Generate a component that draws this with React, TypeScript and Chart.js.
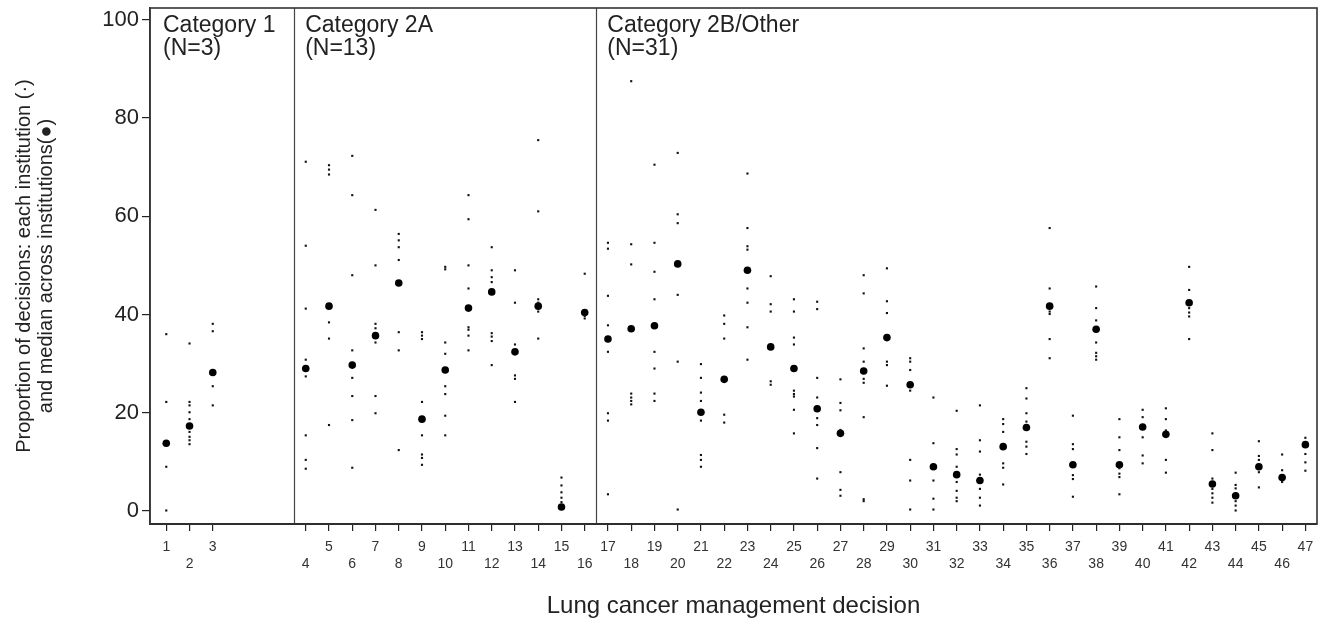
import React, { useEffect, useRef } from 'react';
import { Chart, registerables } from 'chart.js';

Chart.register(...registerables);

// ---------- data ----------
const decisionLabels: string[] = Array.from({ length: 47 }, (_, i) => String(i + 1));

const categoryNames: string[] = ['Category 1', 'Category 2A', 'Category 2B/Other'];
const categoryCounts: string[] = ['(N=3)', '(N=13)', '(N=31)'];
const categoryFirstDecision: number[] = [1, 4, 17];

const yTickValues: number[] = [0, 20, 40, 60, 80, 100];

const medians: number[] = [
  13.8, 17.3, 28.2, 29.0, 41.7, 29.7, 35.7, 46.4, 18.7, 28.7,
  41.3, 44.6, 32.4, 41.7, 0.8, 40.4, 35.0, 37.1, 37.7, 50.3,
  20.1, 26.8, 49.0, 33.4, 29.0, 20.8, 15.8, 28.5, 35.3, 25.7,
  9.0, 7.4, 6.2, 13.1, 17.0, 41.7, 9.4, 37.0, 9.4, 17.1,
  15.6, 42.4, 5.5, 3.1, 9.0, 6.8, 13.5,
];

const institutionValues: number[][] = [
  [36.0, 22.2, 9.0, 0.1],
  [34.1, 22.2, 21.5, 20.1, 18.7, 16.1, 15.1, 14.4, 13.6],
  [38.1, 36.6, 25.4, 21.5],
  [71.1, 54.0, 41.2, 30.8, 27.4, 15.4, 10.4, 8.6],
  [70.4, 69.5, 68.5, 38.4, 35.1, 17.5],
  [72.3, 64.3, 48.0, 32.7, 27.1, 23.4, 18.5, 8.8],
  [61.3, 50.0, 38.1, 37.2, 34.3, 23.4, 19.9],
  [56.4, 55.1, 53.7, 51.1, 36.4, 32.7, 12.4],
  [36.4, 35.7, 35.0, 22.2, 15.4, 11.5, 10.8, 9.4],
  [49.7, 49.2, 34.3, 32.0, 25.4, 23.8, 19.4, 15.4],
  [64.3, 59.4, 50.0, 45.3, 37.4, 36.9, 35.7, 32.7],
  [53.7, 49.0, 47.6, 46.6, 36.2, 35.5, 34.6, 29.7],
  [49.0, 42.4, 33.9, 27.6, 26.9, 22.2],
  [75.5, 61.0, 43.1, 42.4, 40.6, 35.1],
  [6.8, 5.2, 3.8, 2.7, 1.8],
  [48.3, 39.7, 39.2],
  [54.6, 53.4, 43.8, 37.8, 32.4, 19.9, 18.4, 3.4],
  [87.5, 54.3, 50.2, 23.9, 23.1, 22.4, 21.7],
  [70.5, 54.6, 48.7, 43.1, 32.4, 29.0, 23.9, 22.4],
  [72.9, 60.4, 58.6, 44.0, 30.4, 0.3],
  [29.9, 27.1, 24.1, 22.4, 18.4, 11.4, 10.4, 9.0],
  [39.8, 38.1, 35.1, 19.6, 18.0],
  [68.7, 57.6, 53.9, 53.2, 45.3, 42.4, 37.4, 30.8],
  [47.8, 42.1, 40.6, 26.4, 25.7],
  [43.1, 40.6, 35.3, 33.9, 24.5, 23.8, 23.3, 20.6, 15.8],
  [42.6, 41.1, 27.1, 23.1, 18.9, 17.5, 12.8, 6.6],
  [26.8, 22.0, 20.5, 16.5, 7.9, 4.3, 3.1],
  [48.0, 44.3, 33.1, 30.4, 26.9, 26.1, 19.1, 2.4, 2.0],
  [49.4, 42.7, 40.3, 30.4, 29.7, 25.5],
  [31.1, 30.4, 28.7, 24.5, 10.4, 6.2, 0.3],
  [23.1, 13.8, 6.2, 2.5, 0.3],
  [20.4, 12.6, 11.5, 9.0, 5.9, 4.1, 2.7, 2.0],
  [21.5, 14.4, 12.1, 7.4, 4.5, 2.7, 1.1],
  [18.7, 17.7, 16.1, 9.7, 8.8, 5.4],
  [25.0, 22.9, 19.9, 18.2, 14.1, 13.1, 11.6],
  [57.6, 45.3, 40.6, 40.1, 35.0, 31.1],
  [19.4, 13.6, 12.6, 7.3, 6.5, 2.9],
  [45.7, 41.3, 38.8, 34.3, 32.2, 31.5, 30.8],
  [18.7, 15.0, 12.4, 8.7, 7.6, 6.9, 3.4],
  [20.6, 19.1, 15.0, 11.3, 9.7],
  [20.9, 18.7, 16.4, 10.4, 7.8],
  [49.7, 45.0, 41.3, 40.4, 39.6, 35.0],
  [15.8, 12.4, 6.6, 4.5, 3.6, 2.7, 1.7],
  [7.8, 5.3, 4.6, 2.0, 1.1, 0.1],
  [14.2, 11.2, 10.4, 7.9, 4.8],
  [11.5, 8.3, 5.9],
  [14.9, 11.6, 9.9, 8.2],
];

// ---------- layout helpers ----------
// decisions 1-3 sit in slots 0-2, three empty slots, then decision 4 onward
const slotOf = (d: number): number => (d <= 3 ? d - 1 : d + 2);
const FONT = "'Liberation Sans', Arial, sans-serif";
const INK = '#222';

export default function App() {
  const ref = useRef<HTMLCanvasElement | null>(null);

  useEffect(() => {
    if (!ref.current) return;

    const instPoints: { x: number; y: number }[] = [];
    institutionValues.forEach((vals, i) => {
      vals.forEach((v) => instPoints.push({ x: slotOf(i + 1), y: v }));
    });
    const medianPoints = medians.map((m, i) => ({ x: slotOf(i + 1), y: m }));
    const tickSlots = decisionLabels.map((_, i) => slotOf(i + 1));

    const overlay = {
      id: 'overlay',
      beforeDatasetsDraw(chart: any) {
        const { ctx, chartArea } = chart;
        const xs = chart.scales.x;
        ctx.save();
        ctx.strokeStyle = '#444';
        ctx.lineWidth = 1.2;
        categoryFirstDecision.slice(1).forEach((d) => {
          const px = Math.round(xs.getPixelForValue(slotOf(d) - 0.5)) + 0.5;
          ctx.beginPath();
          ctx.moveTo(px, chartArea.top);
          ctx.lineTo(px, chartArea.bottom);
          ctx.stroke();
        });
        ctx.fillStyle = INK;
        ctx.font = `23px ${FONT}`;
        ctx.textBaseline = 'middle';
        ctx.textAlign = 'left';
        categoryFirstDecision.forEach((d, i) => {
          const left = i === 0 ? chartArea.left : xs.getPixelForValue(slotOf(d) - 0.5);
          const tx = left + (i === 0 ? 13 : 11);
          ctx.fillText(categoryNames[i], tx, chartArea.top + 18);
          ctx.fillText(categoryCounts[i], tx, chartArea.top + 41);
        });
        ctx.restore();
      },
      afterDraw(chart: any) {
        const { ctx, chartArea } = chart;
        ctx.save();
        ctx.strokeStyle = '#333';
        ctx.lineWidth = 1.6;
        ctx.strokeRect(chartArea.left, chartArea.top, chartArea.right - chartArea.left, chartArea.bottom - chartArea.top);
        ctx.restore();
      },
    };

    const chart = new Chart(ref.current, {
      type: 'scatter',
      data: {
        datasets: [
          {
            label: 'institution',
            data: instPoints,
            pointStyle: 'rect',
            pointRadius: 1.5,
            pointBorderWidth: 0,
            backgroundColor: '#111',
            borderColor: '#111',
          },
          {
            label: 'median',
            data: medianPoints,
            pointStyle: 'circle',
            pointRadius: 3.8,
            pointBorderWidth: 0,
            backgroundColor: '#000',
            borderColor: '#000',
          },
        ],
      },
      options: {
        animation: false,
        responsive: false,
        events: [],
        layout: { padding: { top: 8, right: 11, left: 0, bottom: 0 } },
        plugins: { legend: { display: false }, tooltip: { enabled: false } },
        scales: {
          x: {
            type: 'linear',
            min: -0.7,
            max: 49.5,
            afterFit: (s: any) => { s.height = 101; s.paddingLeft = 0; s.paddingRight = 0; },
            afterBuildTicks: (s: any) => { s.ticks = tickSlots.map((v) => ({ value: v })); },
            grid: { display: true, drawOnChartArea: false, drawTicks: true, tickLength: 7, color: INK, lineWidth: 1.2 },
            border: { display: true, color: '#222', width: 2 },
            ticks: {
              autoSkip: false,
              maxRotation: 0,
              padding: 8,
              color: '#333',
              font: { family: FONT, size: 14, lineHeight: 1.2 },
              callback: (value: any) => {
                const idx = tickSlots.indexOf(Number(value));
                if (idx < 0) return '';
                const d = idx + 1;
                return d % 2 === 1 ? decisionLabels[idx] : ['', decisionLabels[idx]];
              },
            },
            title: {
              display: true,
              text: 'Lung cancer management decision',
              color: INK,
              font: { family: FONT, size: 24, lineHeight: 1.2 },
              padding: { top: 0, bottom: 4 },
            },
          },
          y: {
            type: 'linear',
            min: -2.65,
            max: 102.4,
            afterFit: (s: any) => { s.width = 150; s.paddingTop = 0; s.paddingBottom = 0; },
            afterBuildTicks: (s: any) => { s.ticks = yTickValues.map((v) => ({ value: v })); },
            grid: { display: true, drawOnChartArea: false, drawTicks: true, tickLength: 8, color: INK, lineWidth: 1.2 },
            border: { display: true, color: '#333', width: 1.6 },
            ticks: {
              padding: 3,
              color: INK,
              font: { family: FONT, size: 22 },
            },
            title: {
              display: true,
              text: ['Proportion of decisions: each institution (·)', 'and median across institutions(●)'],
              color: INK,
              font: { family: FONT, size: 20, lineHeight: 1.1 },
              padding: { top: 13, bottom: 0 },
            },
          },
        },
      },
      plugins: [overlay],
    } as any);

    return () => chart.destroy();
  }, []);

  return (
    <div style={{ position: 'fixed', left: 0, top: 0, width: 1328, height: 625, background: '#fff' }}>
      <canvas ref={ref} width={1328} height={625} style={{ display: 'block' }} />
    </div>
  );
}
